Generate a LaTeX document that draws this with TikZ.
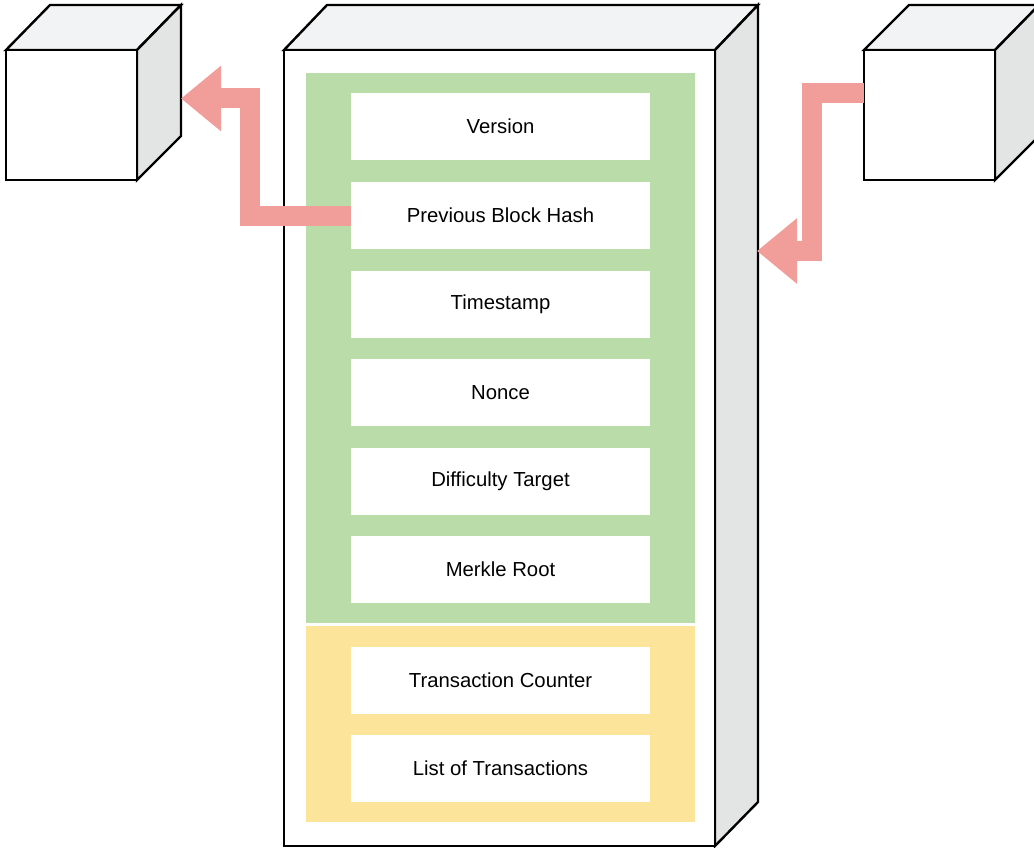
\documentclass[tikz,border=0pt]{standalone}
\usepackage{fontspec}
\setmainfont{Liberation Sans}
\usetikzlibrary{arrows.meta}
\definecolor{topface}{HTML}{F2F3F5}
\definecolor{sideface}{HTML}{E3E5E4}
\definecolor{greenbg}{HTML}{B9DCA8}
\definecolor{yellowbg}{HTML}{FCE49A}
\definecolor{arrowc}{HTML}{F19D99}
\begin{document}
\begin{tikzpicture}[x=1pt,y=-1pt,
  edge/.style={draw=black,line width=2.4pt,line join=miter},
  field/.style={fill=white,draw=none,minimum width=299pt,minimum height=67pt,inner sep=0pt,
    font=\fontsize{20.3}{24}\selectfont},
  flow/.style={draw=arrowc,line width=20pt,line join=miter,line cap=butt,
    -{Triangle[length=40pt,width=63pt]}}]
\useasboundingbox (0,0) rectangle (1034,848);
\clip (0,0) rectangle (1034,848);
% left cube
\draw[edge,fill=topface] (6,50) -- (50,5) -- (181,5) -- (137,50) -- cycle;
\draw[edge,fill=sideface] (137,50) -- (181,5) -- (181,136) -- (137,180) -- cycle;
\draw[edge,fill=white] (6,50) rectangle (137,180);
\coordinate (lcube) at (181,98.5);
% right cube
\draw[edge,fill=topface] (864,50) -- (909,5) -- (1039,5) -- (995,50) -- cycle;
\draw[edge,fill=sideface] (995,50) -- (1039,5) -- (1039,136) -- (995,180) -- cycle;
\draw[edge,fill=white] (864,50) rectangle (995,180);
\coordinate (rcube) at (864,93);
% main block
\draw[edge,fill=topface] (284,50) -- (327,5) -- (758,5) -- (715,50) -- cycle;
\draw[edge,fill=sideface] (715,50) -- (758,5) -- (758,802) -- (715,846) -- cycle;
\draw[edge,fill=white] (284,50) rectangle (715,846);
\coordinate (mright) at (757,251);
% header / body backgrounds
\fill[greenbg] (306,73) rectangle (695,623);
\fill[yellowbg] (306,626) rectangle (695,822);
% fields
\node[field] (version) at (500.5,126.5) {Version};
\node[field] (prev) at (500.5,215.5) {Previous Block Hash};
\node[field] (time) at (500.5,304) {Timestamp};
\node[field] (nonce) at (500.5,392.5) {Nonce};
\node[field] (diff) at (500.5,481) {Difficulty Target};
\node[field] (merkle) at (500.5,569.5) {Merkle Root};
\node[field] (count) at (500.5,680) {Transaction Counter};
\node[field] (list) at (500.5,768.5) {List of Transactions};
% arrows
\draw[flow] (prev.west) -- (250,215.5) -- (250,98.5) -- (lcube);
\draw[flow] (rcube) -- (812,93) -- (812,251) -- (mright);
\end{tikzpicture}
\end{document}
